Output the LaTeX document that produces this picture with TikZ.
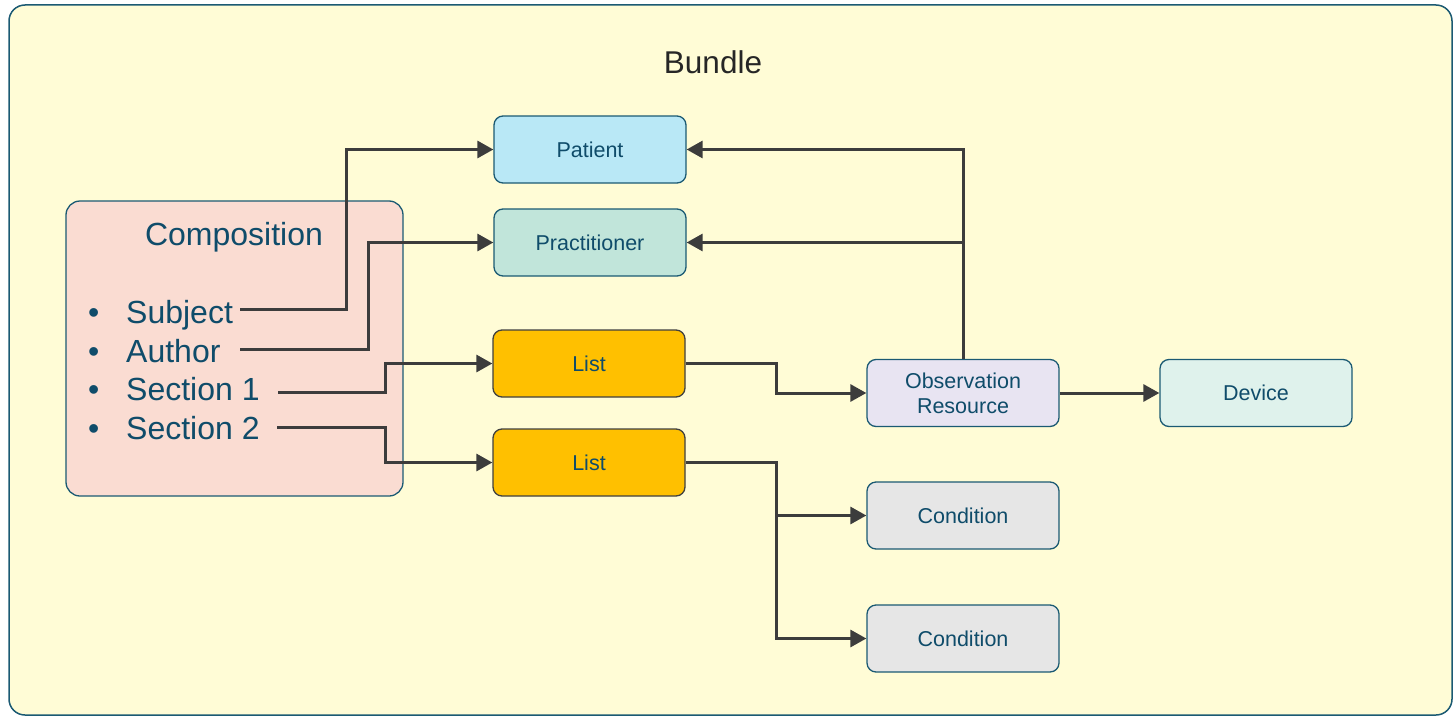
\documentclass[tikz,border=0pt]{standalone}
\usepackage{fontspec}
\setmainfont{Liberation Sans}
\usetikzlibrary{arrows.meta}
\definecolor{bg}{HTML}{FFFCD6}
\definecolor{frame}{HTML}{1B5A73}
\definecolor{txt}{HTML}{0F4C6A}
\definecolor{wire}{HTML}{3C3C3C}
\definecolor{cpat}{HTML}{B9E8F6}
\definecolor{cprac}{HTML}{C1E5DA}
\definecolor{clist}{HTML}{FFC000}
\definecolor{cobs}{HTML}{E8E4F2}
\definecolor{cdev}{HTML}{DFF2EC}
\definecolor{ccond}{HTML}{E6E6E6}
\definecolor{ccomp}{HTML}{FADCD2}
\begin{document}
\begin{tikzpicture}[x=1pt,y=-1pt,
  box/.style={draw=frame,line width=1.3pt,rounded corners=9pt,minimum width=192pt,minimum height=67pt,
    text=txt,font=\fontsize{21.5}{25}\selectfont,align=center,inner sep=0pt},
  listbox/.style={box,draw=black!75},
  wirel/.style={draw=wire,line width=3pt},
  arr/.style={wirel,-{Triangle[length=16pt,width=17pt]}},
  item/.style={anchor=base west,text=txt,font=\fontsize{32}{35}\selectfont,inner sep=0pt}]
\useasboundingbox (0,0) rectangle (1455,717);
\draw[fill=bg,draw=frame,line width=1.5pt,rounded corners=16pt] (9,5) rectangle (1452,715);
\node[text=black!85,font=\fontsize{31.5}{34}\selectfont] (bundle) at (713,62) {Bundle};
% composition
\node[draw=frame,fill=ccomp,line width=1.3pt,rounded corners=14pt,minimum width=337pt,minimum height=295pt,inner sep=0pt] (comp) at (234.5,348.5) {};
\node[text=txt,font=\fontsize{32}{35}\selectfont] (comptitle) at (234,237) {Composition};
\node[item] (b1) at (88,323) {•};
\node[item] (i1) at (126,323) {Subject};
\node[item] (b2) at (88,362) {•};
\node[item] (i2) at (126,362) {Author};
\node[item] (b3) at (88,400) {•};
\node[item] (i3) at (126,400) {Section 1};
\node[item] (b4) at (88,439) {•};
\node[item] (i4) at (126,439) {Section 2};
\coordinate (s1) at (240,309);
\coordinate (s2) at (240,349);
\coordinate (s3) at (278,392);
\coordinate (s4) at (277,427);
% nodes
\node[box,fill=cpat] (pat) at (590,149.5) {Patient};
\node[box,fill=cprac] (prac) at (590,242.5) {Practitioner};
\node[listbox,fill=clist] (list1) at (589,363.5) {List};
\node[listbox,fill=clist] (list2) at (589,462.5) {List};
\node[box,fill=cobs] (obs) at (963,393) {Observation\\Resource};
\node[box,fill=cdev] (dev) at (1256,393) {Device};
\node[box,fill=ccond] (cond1) at (963,515.5) {Condition};
\node[box,fill=ccond] (cond2) at (963,638.5) {Condition};
% connectors
\draw[arr] (s1) -- (346,309) |- (pat.west);
\draw[arr] (s2) -- (368,349) |- (prac.west);
\draw[arr] (s3) -- (385,392) |- (list1.west);
\draw[arr] (s4) -- (385,427) |- (list2.west);
\draw[arr] (list1.east) -- (776,363.5) |- (obs.west);
\coordinate (j2) at (776,462.5);
\draw[arr] (list2.east) -- (j2) |- (cond1.west);
\draw[arr] (j2) |- (cond2.west);
\coordinate (j1) at (963,242.5);
\draw[arr] (obs.north) |- (pat.east);
\draw[arr] (j1) -- (prac.east);
\draw[arr] (obs.east) -- (dev.west);
\end{tikzpicture}
\end{document}
